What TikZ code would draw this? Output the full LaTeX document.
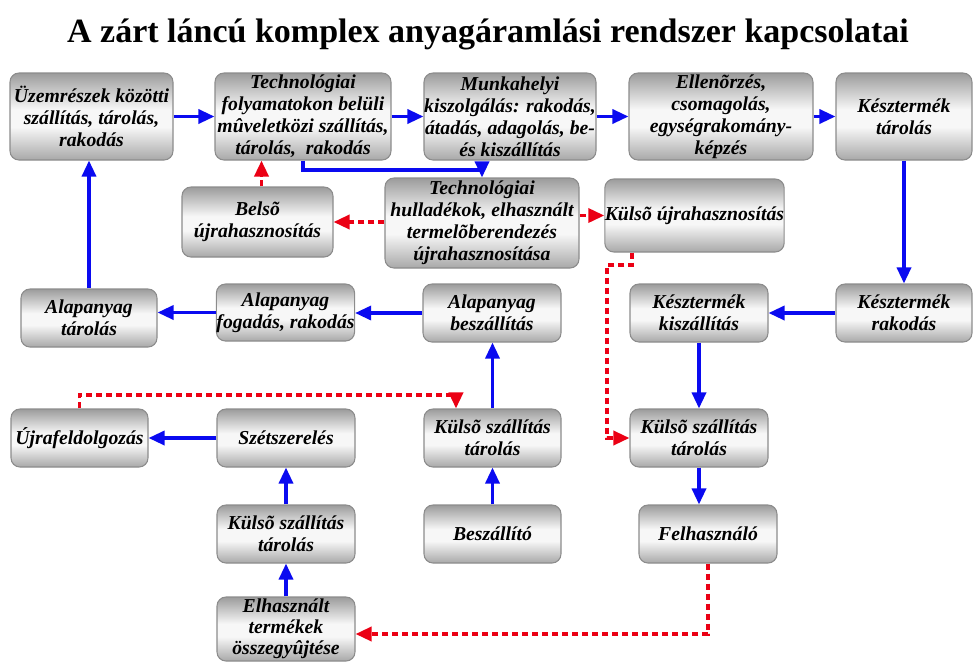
\documentclass[tikz,border=0pt]{standalone}
\usepackage{fontspec}
\setmainfont{Liberation Serif}
\usetikzlibrary{arrows.meta,calc}
\definecolor{myred}{RGB}{235,0,20}
\definecolor{myblue}{RGB}{10,10,240}
\definecolor{boxedge}{RGB}{140,140,140}
\pgfdeclareverticalshading{boxshade}{100bp}{color(0bp)=(gray!68); color(25bp)=(gray!68); color(44bp)=(white!94!gray); color(54bp)=(white!94!gray); color(75bp)=(gray!78); color(100bp)=(gray!78)}
\tikzset{
  box/.style={draw=boxedge, line width=0.8pt, rounded corners=6.75pt, shading=boxshade,
    inner sep=0pt, align=center, font=\fontsize{14.8pt}{16.5pt}\selectfont\bfseries\itshape},
  barrow/.style={draw=myblue, line width=2.5pt, -{Triangle[length=12pt,width=10.5pt]}},
  rarrow/.style={draw=myred, line width=2.6pt, dash pattern=on 4.5pt off 3pt, -{Triangle[length=12pt,width=10.5pt]}},
}
\newcommand\bx[6]{\node[box, minimum width={(#4-#2)*0.75pt}, minimum height={(#5-#3)*0.75pt}] (#1) at ({(#2+#4)/2},{(#3+#5)/2}) {#6};}
\begin{document}
\begin{tikzpicture}[x=0.75pt,y=-0.75pt]
\useasboundingbox (0,0) rectangle (976,662);
\node[anchor=base, font=\fontsize{25.5pt}{30pt}\selectfont\bfseries] (title) at (488,42) {A zárt láncú komplex anyagáramlási rendszer kapcsolatai};
% row 1
\bx{b1}{10}{73}{173}{160}{Üzemrészek közötti\\szállítás, tárolás,\\rakodás}
\bx{b2}{215}{73}{391}{160}{Technológiai\\folyamatokon belüli\\mûveletközi szállítás,\\tárolás,\ \ rakodás}
\bx{b3}{424}{73}{596}{160}{Munkahelyi\\kiszolgálás: rakodás,\\átadás, adagolás, be-\\és kiszállítás}
\bx{b4}{629}{73}{813}{160}{Ellenõrzés,\\csomagolás,\\egységrakomány-\\képzés}
\bx{b5}{836}{73}{972}{160}{Késztermék\\tárolás}
% row 2
\bx{belso}{182}{187}{333}{257}{Belsõ\\újrahasznosítás}
\bx{techh}{385}{178}{579}{268}{Technológiai\\hulladékok, elhasznált\\termelõberendezés\\újrahasznosítása}
\bx{kulsoujra}{608}{179}{781}{252}{Külsõ újrahasznosítás}
% row 3
\bx{atarolas}{21}{289}{157}{347}{Alapanyag\\tárolás}
\bx{afogadas}{217}{284}{354}{341}{Alapanyag\\fogadás, rakodás}
\bx{abesz}{423}{284}{561}{342}{Alapanyag\\beszállítás}
\bx{kkisz}{630}{284}{768}{342}{Késztermék\\kiszállítás}
\bx{krak}{836}{284}{972}{342}{Késztermék\\rakodás}
% row 4
\bx{ujraf}{11}{409}{148}{467}{Újrafeldolgozás}
\bx{szet}{217}{409}{355}{467}{Szétszerelés}
\bx{ksza}{424}{409}{561}{467}{Külsõ szállítás\\tárolás}
\bx{kszb}{630}{409}{768}{467}{Külsõ szállítás\\tárolás}
% row 5
\bx{kszc}{217}{505}{355}{563}{Külsõ szállítás\\tárolás}
\bx{besz}{424}{505}{561}{563}{Beszállító}
\bx{felh}{639}{505}{777}{563}{Felhasználó}
% row 6
\node[box, minimum width={138*0.75pt}, minimum height={64*0.75pt}, font=\fontsize{14.8pt}{15.8pt}\selectfont\bfseries\itshape] (elh) at (286,629) {Elhasznált\\termékek\\összegyûjtése};
% coordinates
\coordinate (bm) at (482,170);
\coordinate (uj) at (456,395);
\coordinate (ka) at (632,265);
\coordinate (kb) at (607,265);
\coordinate (fe) at (708,634);
% blue connectors
\draw[barrow] (b1.east) -- (b2.west);
\draw[barrow] (b2.east) -- (b3.west);
\draw[barrow] (b3.east) -- (b4.west);
\draw[barrow] (b4.east) -- (b5.west);
\draw[barrow] (b5.south) -- (krak.north);
\draw[barrow] (krak.west) -- (krak.west -| kkisz.east);
\draw[barrow] (kkisz.south) -- (kszb.north);
\draw[barrow] (kszb.south) -- (kszb.south |- felh.north);
\draw[barrow] (elh.north) -- (kszc.south);
\draw[barrow] (kszc.north) -- (szet.south);
\draw[barrow] (szet.west) -- (ujraf.east);
\draw[barrow] (besz.north) -- (ksza.south);
\draw[barrow] (ksza.north) -- (ksza.north |- abesz.south);
\draw[barrow] (abesz.west) -- (abesz.west -| afogadas.east);
\draw[barrow] (afogadas.west) -- (afogadas.west -| atarolas.east);
\draw[barrow] (atarolas.north) -- (atarolas.north |- b1.south);
\draw[barrow, rounded corners=0pt] (b2.south) |- (bm) -- (techh.north);
% red dashed connectors
\draw[rarrow] (techh.west |- belso.east) -- (belso.east);
\draw[rarrow] (techh.east |- kulsoujra.west) -- (kulsoujra.west);
\draw[rarrow] ([xshift=3pt]belso.north) -- ([xshift=3pt]belso.north |- b2.south);
\draw[rarrow] (ka |- kulsoujra.south) -- (ka) -- (kb) |- (kszb.west);
\draw[rarrow] (ujraf.north) |- (uj) -- (uj |- ksza.north);
\draw[rarrow] (fe |- felh.south) -- (fe) -- (fe -| elh.east);
\end{tikzpicture}
\end{document}
